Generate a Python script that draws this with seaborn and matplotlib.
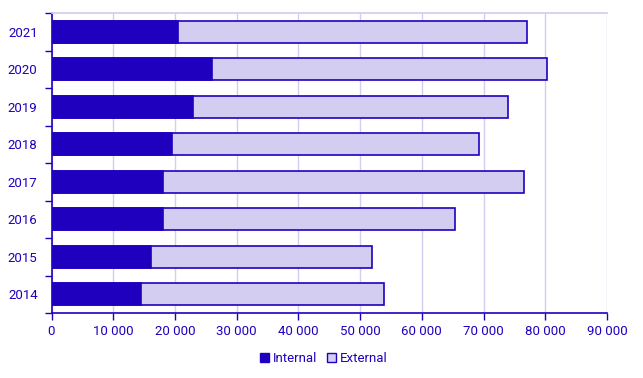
import pandas as pd
import seaborn as sns
import matplotlib.pyplot as plt
from matplotlib.patches import Patch
from matplotlib.ticker import FuncFormatter, FixedLocator

# values (top to bottom)
years = ["2021", "2020", "2019", "2018", "2017", "2016", "2015", "2014"]
internal = [20500, 25950, 23000, 19600, 18000, 18000, 16200, 14450]
external = [56600, 54400, 51000, 49600, 58500, 47300, 35700, 39350]

dark = "#1F00BF"
light = "#D3CDF2"

df = pd.DataFrame({"year": years, "internal": internal, "external": external})
df["total"] = df["internal"] + df["external"]

sns.set_theme(style="white")
plt.rcParams["font.family"] = ["Roboto", "DejaVu Sans"]

fig = plt.figure(figsize=(6.43, 3.78), dpi=100)
ax = fig.add_axes([51.5 / 643, 1 - 313 / 378, (607 - 51.5) / 643, 300 / 378])

sns.barplot(data=df, x="total", y="year", order=years, orient="h", color=light,
            saturation=1, width=0.59, edgecolor=dark, linewidth=1.2, ax=ax, zorder=2)
sns.barplot(data=df, x="internal", y="year", order=years, orient="h", color=dark,
            saturation=1, width=0.59, edgecolor=dark, linewidth=1.2, ax=ax, zorder=3)

ax.set_xlim(0, 90000)
ax.set_ylim(7.5, -0.5)
ax.set_xticks(range(0, 90001, 10000))
ax.xaxis.set_major_formatter(FuncFormatter(lambda v, p: f"{int(v):,}".replace(",", " ")))
ax.grid(axis="x", color=light, linewidth=1, zorder=0)
ax.set_axisbelow(True)
ax.set_xlabel("")
ax.set_ylabel("")

ax.spines["right"].set_visible(False)
ax.spines["top"].set_color(light)
ax.spines["left"].set_color(dark)
ax.spines["bottom"].set_color(dark)
ax.spines["left"].set_linewidth(1.2)
ax.spines["bottom"].set_linewidth(1.2)

ax.tick_params(axis="x", colors=dark, labelcolor=dark, length=5, width=1, labelsize=9.5, direction="out", bottom=True)
ax.tick_params(axis="y", which="major", length=0, labelcolor=dark, labelsize=9.5, pad=10)
ax.yaxis.set_minor_locator(FixedLocator([i - 0.5 for i in range(len(years) + 1)]))
ax.tick_params(axis="y", which="minor", length=5, width=1, color=dark, left=True, direction="out")

handles = [Patch(facecolor=dark, edgecolor=dark, label="Internal"),
           Patch(facecolor=light, edgecolor=dark, label="External")]
leg = ax.legend(handles=handles, loc="upper center", bbox_to_anchor=(0.49, -0.112), ncol=2,
                frameon=False, handlelength=0.7, handleheight=0.7, handletextpad=0.3,
                columnspacing=0.7, fontsize=9.5, borderaxespad=0)
for t in leg.get_texts():
    t.set_color(dark)

fig.savefig("out.png", dpi=100)
